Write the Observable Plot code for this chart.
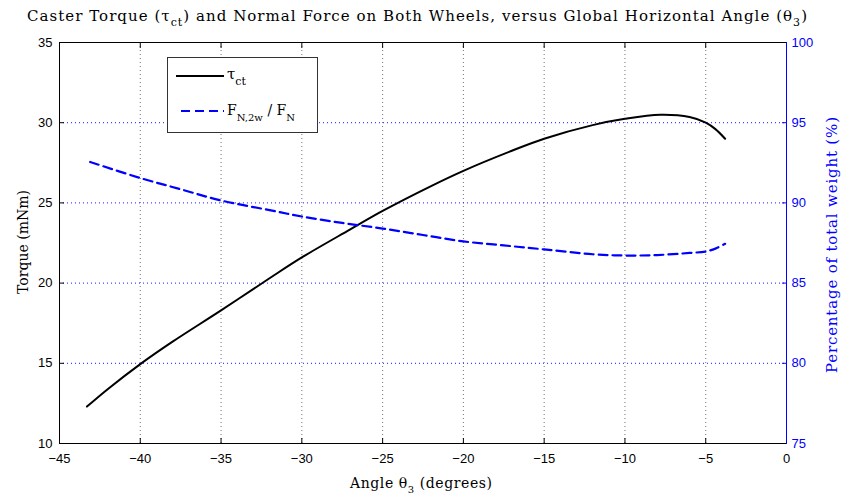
<!DOCTYPE html>
<html>
<head>
<meta charset="utf-8">
<script src="https://cdn.jsdelivr.net/npm/d3@7"></script>
<script src="https://cdn.jsdelivr.net/npm/@observablehq/plot@0.6"></script>
<style>
  html, body { margin: 0; padding: 0; background: #fff; }
  #chart { width: 845px; height: 499px; }
</style>
</head>
<body>
<div id="chart"></div>
<script>
// Torque curve (left axis, mNm) vs angle (degrees)
const torqueAngle = [-43.3, -42, -40, -38, -35, -32, -30, -27, -25, -22, -20, -17, -15, -12, -10, -7.8, -6, -5, -4.4, -3.8];
const torqueValue = [12.3, 13.4, 14.95, 16.35, 18.3, 20.3, 21.6, 23.35, 24.5, 26.05, 27.0, 28.25, 29.0, 29.85, 30.24, 30.49, 30.35, 30.0, 29.6, 29.0];
// Normal force ratio (right axis, % of total weight)
const forceAngle = [-43.1, -40, -37.5, -35, -32, -30, -27.5, -25, -22.5, -20, -17.5, -15, -12, -10, -8, -6, -5, -4.4, -3.8];
const forcePct = [92.55, 91.55, 90.85, 90.15, 89.55, 89.15, 88.75, 88.4, 88.0, 87.6, 87.35, 87.1, 86.8, 86.72, 86.75, 86.88, 86.97, 87.15, 87.45];
// Axis ticks
const xTicks = [-45, -40, -35, -30, -25, -20, -15, -10, -5, 0];
const yTicksLeft = [10, 15, 20, 25, 30, 35];
const yTicksRight = [75, 80, 85, 90, 95, 100];
const rightOffset = 65; // right axis value = left axis value + 65

const torque = torqueAngle.map((a, i) => ({angle: a, value: torqueValue[i]}));
const force = forceAngle.map((a, i) => ({angle: a, value: forcePct[i] - rightOffset}));

const sans = "'Liberation Sans Narrow', 'Liberation Sans', Arial, sans-serif";
const serif = "'DejaVu Serif', 'Liberation Serif', serif";

const chart = Plot.plot({
  width: 845,
  height: 499,
  marginLeft: 59,
  marginRight: 59,
  marginTop: 42,
  marginBottom: 56,
  style: {fontFamily: sans, fontSize: "13px", background: "#fff", overflow: "visible"},
  x: {domain: [-45, 0], label: null},
  y: {domain: [10, 35], label: null},
  marks: [
    Plot.gridX(xTicks.slice(1, -1), {stroke: "#000", strokeOpacity: 0.55, strokeDasharray: "1,3"}),
    Plot.gridY(yTicksLeft.slice(1, -1), {stroke: "#0000ff", strokeOpacity: 0.9, strokeDasharray: "1,3"}),
    Plot.line(torque, {x: "angle", y: "value", stroke: "#000", strokeWidth: 2, curve: "catmull-rom"}),
    Plot.line(force, {x: "angle", y: "value", stroke: "#0000ff", strokeWidth: 2.2, strokeDasharray: "9,5", curve: "catmull-rom"}),
    // inward tick marks (outward ticks shifted inside)
    Plot.axisX(xTicks, {anchor: "bottom", tickSize: 5, dy: -5, text: null, stroke: "#000"}),
    Plot.axisX(xTicks, {anchor: "top", tickSize: 5, dy: 5, text: null, stroke: "#000"}),
    Plot.axisY(yTicksLeft, {anchor: "left", tickSize: 5, dx: 5, text: null, stroke: "#000"}),
    Plot.axisY(yTicksLeft, {anchor: "right", tickSize: 5, dx: -5, text: null, stroke: "#0000ff"}),
    // tick labels
    Plot.axisX(xTicks, {anchor: "bottom", tickSize: 0, tickPadding: 10, fill: "#000", fontSize: 13, label: null}),
    Plot.axisY(yTicksLeft, {anchor: "left", tickSize: 0, tickPadding: 7, fill: "#000", fontSize: 13, label: null}),
    Plot.axisY(yTicksLeft, {anchor: "right", tickSize: 0, tickPadding: 5, fill: "#0000ff", fontSize: 13, label: null,
      tickFormat: d => String(d + rightOffset)}),
    // frame: black left/top/bottom, blue right
    Plot.ruleY([10, 35], {stroke: "#000", strokeWidth: 1}),
    Plot.ruleX([-45], {stroke: "#000", strokeWidth: 1}),
    Plot.ruleX([0], {stroke: "#0000ff", strokeWidth: 1})
  ]
});

const svg = d3.select(chart);
// Title
const title = svg.append("text")
  .attr("x", 417).attr("y", 21)
  .attr("text-anchor", "middle")
  .attr("textLength", 780).attr("lengthAdjust", "spacing")
  .attr("font-family", serif).attr("font-size", 15).attr("fill", "#000");
title.append("tspan").text("Caster Torque (τ");
title.append("tspan").attr("font-size", 11).attr("dy", 5).text("ct");
title.append("tspan").attr("dy", -5).text(") and Normal Force on Both Wheels, versus Global Horizontal Angle (θ");
title.append("tspan").attr("font-size", 11).attr("dy", 5).text("3");
title.append("tspan").attr("dy", -5).text(")");

// Axis labels
const xl = svg.append("text").attr("x", 421).attr("y", 488).attr("text-anchor", "middle")
  .attr("textLength", 142).attr("lengthAdjust", "spacing")
  .attr("font-family", serif).attr("font-size", 14).attr("fill", "#000");
xl.append("tspan").text("Angle θ");
xl.append("tspan").attr("font-size", 10).attr("dy", 5).text("3");
xl.append("tspan").attr("dy", -5).text(" (degrees)");

svg.append("text").attr("transform", "translate(28,242) rotate(-90)").attr("text-anchor", "middle")
  .attr("font-family", serif).attr("font-size", 14).attr("fill", "#000").text("Torque (mNm)");
svg.append("text").attr("transform", "translate(837,245) rotate(-90)").attr("text-anchor", "middle")
  .attr("textLength", 256).attr("lengthAdjust", "spacing")
  .attr("font-family", serif).attr("font-size", 15).attr("fill", "#0000ff").text("Percentage of total weight (%)");

// Legend
const lg = svg.append("g").attr("text-anchor", "start");
lg.append("rect").attr("x", 167.5).attr("y", 57.5).attr("width", 150).attr("height", 75)
  .attr("fill", "#fff").attr("stroke", "#333").attr("stroke-width", 1);
lg.append("line").attr("x1", 176).attr("x2", 224).attr("y1", 76).attr("y2", 76)
  .attr("stroke", "#000").attr("stroke-width", 2);
lg.append("line").attr("x1", 181).attr("x2", 224).attr("y1", 111).attr("y2", 111)
  .attr("stroke", "#0000ff").attr("stroke-width", 2.2).attr("stroke-dasharray", "9,5");
const l1 = lg.append("text").attr("x", 227).attr("y", 79).attr("font-family", serif).attr("font-size", 15).attr("fill", "#000");
l1.append("tspan").text("τ");
l1.append("tspan").attr("font-size", 11).attr("dy", 6).text("ct");
const l2 = lg.append("text").attr("x", 227).attr("y", 115).attr("font-family", serif).attr("font-size", 14).attr("fill", "#000");
l2.append("tspan").text("F");
l2.append("tspan").attr("font-size", 10).attr("dy", 6).text("N,2w");
l2.append("tspan").attr("dy", -6).text(" / F");
l2.append("tspan").attr("font-size", 10).attr("dy", 6).text("N");

document.getElementById("chart").appendChild(chart);
</script>
</body>
</html>
